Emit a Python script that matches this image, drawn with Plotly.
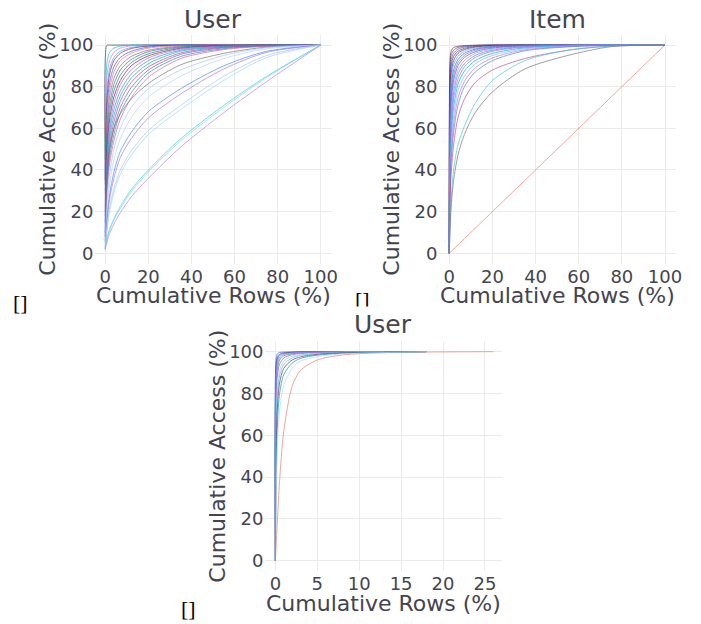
import plotly.graph_objects as go

# ---------------- data ----------------
# Panel 1 (User): cumulative rows grid (%) and cumulative access curves (%)
X_USER = [0, 0.5, 1, 2, 4, 7, 12, 20, 35, 55, 75, 100]
USER_CURVES = [
    [33, 99.5, 100, 100, 100, 100, 100, 100, 100, 100, 100, 100],
    [45, 88, 93, 96.5, 98.5, 99.5, 100, 100, 100, 100, 100, 100],
    [38, 80, 87, 92.5, 96.5, 98.5, 99.6, 100, 100, 100, 100, 100],
    [30, 72, 81, 88.5, 94, 97, 98.8, 99.7, 100, 100, 100, 100],
    [35, 68, 77, 86, 92.5, 96, 98.3, 99.5, 100, 100, 100, 100],
    [28, 62, 72, 82, 89.5, 94, 97, 99, 99.9, 100, 100, 100],
    [25, 58, 68, 78.5, 87, 92.5, 96, 98.5, 99.7, 100, 100, 100],
    [22, 55, 64, 75, 84, 90, 94.5, 97.5, 99.4, 99.9, 100, 100],
    [20, 50, 60, 71, 81, 88, 93, 96.8, 99.1, 99.8, 100, 100],
    [18, 46, 56, 67.5, 78, 85.5, 91.5, 95.8, 98.8, 99.7, 100, 100],
    [15, 42, 52, 64, 75, 83, 90, 94.8, 98.4, 99.6, 99.9, 100],
    [14, 40, 49, 61, 72, 81, 88, 93.8, 98, 99.5, 99.9, 100],
    [12, 36, 46, 58, 69, 78, 86, 92.5, 97.5, 99.3, 99.8, 100],
    [10, 33, 43, 55, 66, 75.5, 84, 91, 97, 99.1, 99.8, 100],
    [10, 30, 40, 52, 63, 73, 82, 89.5, 96.2, 98.9, 99.7, 100],
    [8, 28, 37, 49, 60, 70, 79.5, 88, 95.5, 98.6, 99.6, 100],
    [8, 26, 35, 46, 57, 67.5, 77, 86.5, 94.5, 98.2, 99.5, 100],
    [6, 24, 32, 43, 54, 64.5, 74.5, 84.5, 93.5, 97.8, 99.4, 100],
    [5, 30, 40, 50, 60, 67, 74, 81.5, 90.5, 96, 99, 100],
    [4, 18, 27, 38, 50, 60, 70, 79, 88, 95, 98.7, 100],
    [3, 15, 23, 33, 45, 55, 65, 75, 85, 93.5, 98.2, 100],
    [2, 12, 19, 28, 39, 49, 58, 68, 79, 90, 97, 100],
    [2, 11, 17, 26, 36, 46, 55, 65, 76.5, 88.5, 96.5, 100],
    [2, 9, 14, 22, 31, 40, 49, 59, 71, 85, 95, 100],
    [1, 8, 13, 20, 29, 38, 47, 57, 69, 83, 94, 100],
    [3, 6, 8, 11.5, 16.5, 22.5, 30.5, 40, 55, 71, 85, 100],
    [3, 5.5, 7.5, 11, 16, 21.5, 29.5, 39, 54, 70, 84.5, 100],
    [2, 4, 6, 9.5, 14, 19.5, 27, 36, 51, 67.5, 82.5, 100],
]
USER_COLORS = [
    "#444444", "#00c8d8", "#c77cff", "#619cff", "#7b2d5b", "#3f5bd9",
    "#e8796f", "#9b59b6", "#2e8b57", "#1f77b4", "#8b1a4a", "#a070e0",
    "#5a7fe0", "#00b4c8", "#b04a8a", "#6a5acd", "#4682b4", "#d06a9a",
    "#777777", "#a6c8ff", "#b8d4ff", "#4a8cff", "#b07ae8", "#a6c8ff",
    "#9fd8ff", "#40d0e0", "#70e0f0", "#c080f0",
]

# Panel 2 (Item)
X_ITEM = [0, 0.5, 1, 2, 4, 7, 12, 20, 35, 55, 75, 100]
ITEM_CURVES = [
    [0, 0.5, 1, 2, 4, 7, 12, 20, 35, 55, 75, 100],
    [0, 95, 97.5, 98.8, 99.4, 99.7, 99.9, 100, 100, 100, 100, 100],
    [0, 92, 95.5, 97.5, 98.8, 99.4, 99.8, 100, 100, 100, 100, 100],
    [0, 88, 93, 96, 98, 99, 99.6, 99.9, 100, 100, 100, 100],
    [0, 85, 90.5, 94.5, 97, 98.4, 99.3, 99.8, 100, 100, 100, 100],
    [0, 80, 87, 92.5, 96, 97.8, 99, 99.6, 99.9, 100, 100, 100],
    [0, 76, 84, 90.5, 94.5, 97, 98.5, 99.4, 99.9, 100, 100, 100],
    [0, 72, 80, 88, 93, 96, 98, 99.2, 99.8, 100, 100, 100],
    [0, 68, 77, 85.5, 91.5, 95, 97.5, 98.9, 99.7, 100, 100, 100],
    [0, 64, 73, 83, 90, 94, 96.8, 98.5, 99.6, 99.9, 100, 100],
    [0, 60, 70, 80, 88, 92.5, 96, 98, 99.4, 99.9, 100, 100],
    [0, 56, 66, 77, 86, 91, 95, 97.5, 99.2, 99.8, 100, 100],
    [0, 52, 62, 74, 83.5, 89.5, 94, 97, 99, 99.8, 100, 100],
    [0, 48, 58, 70, 81, 87.5, 92.5, 96, 98.6, 99.6, 99.9, 100],
    [0, 44, 54, 66, 78, 85, 91, 95, 98.2, 99.5, 99.9, 100],
    [0, 40, 50, 62, 74.5, 82.5, 89, 93.8, 97.7, 99.3, 99.8, 100],
    [0, 36, 46, 58, 71, 80, 87, 92.5, 97.2, 99.1, 99.8, 100],
    [0, 30, 40, 52, 65, 74, 82, 88, 93.5, 97.5, 99.5, 100],
    [0, 18, 28, 40, 52, 61, 72, 83, 92.5, 97.5, 99.5, 100],
    [0, 15, 24, 35, 47, 57, 67.5, 77.5, 88.5, 95, 99.2, 100],
]
ITEM_COLORS = [
    "#f08070", "#5a2a4a", "#6b3a6b", "#3f5bd9", "#7b2d5b", "#444466",
    "#619cff", "#2e6fd0", "#9b59b6", "#1f77b4", "#c77cff", "#4a8cff",
    "#a070e0", "#00b4c8", "#8fb8ff", "#b07ae8", "#5a7fe0", "#c0509a",
    "#40d0e0", "#777777",
]

# Panel 3 (User, second dataset) - curves may end before the last grid point
X_USER2 = [0, 0.1, 0.25, 0.5, 1, 2, 3, 5, 8, 13, 18, 26]
USER2_CURVES = [
    [0, 8, 20, 38, 62, 83.5, 91, 96, 98.4, 99.5, 99.8, 100],
    [0, 97, 99, 99.6, 99.8, 99.9, 100, 100, 100, 100],
    [0, 94, 97.5, 98.8, 99.4, 99.7, 99.8, 99.9, 100, 100, 100],
    [0, 90, 95, 97.5, 98.8, 99.4, 99.6, 99.8, 99.9, 100, 100],
    [0, 85, 92, 96, 98, 99, 99.4, 99.7, 99.9, 100],
    [0, 80, 89, 94, 97, 98.5, 99.1, 99.5, 99.8, 100],
    [0, 72, 84, 91, 95.5, 97.8, 98.6, 99.3, 99.7, 99.9, 100],
    [0, 65, 80, 88.5, 94, 97, 98.2, 99, 99.6, 99.9, 100],
    [0, 55, 74, 85, 92, 96, 97.5, 98.7, 99.4, 99.8, 100],
    [0, 45, 66, 80, 89, 94.5, 96.8, 98.3, 99.2, 99.7, 100],
    [0, 35, 55, 72, 84, 92, 95.5, 97.6, 98.9, 99.6, 100],
    [0, 92, 96.5, 98.3, 99.2, 99.6, 99.8, 100, 100],
    [0, 88, 94, 97, 98.6, 99.3, 99.6, 99.8, 100, 100],
]
USER2_COLORS = [
    "#f08070", "#3f5bd9", "#6b3a6b", "#619cff", "#2e8b57", "#9b59b6",
    "#a6c8ff", "#40d0e0", "#7b2d5b", "#00a0a0", "#b8d4ff", "#1f77b4",
    "#c77cff",
]

TITLES = ["User", "Item", "User"]
X_TITLE = "Cumulative Rows (%)"
Y_TITLE = "Cumulative Access (%)"

# ---------------- figure ----------------
W, H = 701, 624
OFF = 8  # page body margin in the browser

fig = go.Figure()

panels = [
    (X_USER, USER_CURVES, USER_COLORS, "x", "y"),
    (X_ITEM, ITEM_CURVES, ITEM_COLORS, "x2", "y2"),
    (X_USER2, USER2_CURVES, USER2_COLORS, "x3", "y3"),
]
for xs, curves, colors, xa, ya in panels:
    for i, ys in enumerate(curves):
        fig.add_trace(go.Scatter(
            x=xs[:len(ys)], y=ys, mode="lines", xaxis=xa, yaxis=ya,
            line=dict(color=colors[i % len(colors)], width=1, shape="spline", smoothing=0.8),
            opacity=0.7, showlegend=False, hoverinfo="skip"))

def fx(p):  # page pixel x -> paper fraction
    return (p - OFF) / W

def fy(p):  # page pixel y -> paper fraction
    return 1 - (p - OFF) / H

TXT = "#444450"
FONT = "DejaVu Sans"
axis_common = dict(
    showgrid=True, gridcolor="#ebebeb", gridwidth=1, zeroline=False, automargin=False,
    showline=False, ticks="", tickfont=dict(family=FONT, size=18, color=TXT),
)

# plot areas in page pixels: (left, right, top, bottom)
boxes = [
    (94.5, 331.5, 34.6, 263.7, [-5, 105], [0, 20, 40, 60, 80, 100]),
    (438.5, 675.8, 34.6, 263.7, [-5, 105], [0, 20, 40, 60, 80, 100]),
    (264.5, 501.7, 341.2, 571.1, [-1.3, 27.0], [0, 5, 10, 15, 20, 25]),
]
lay = {}
annotations = []
title_base = [28, 28, 333]
for k, (l, r, t, b, xr, xt) in enumerate(boxes):
    sfx = "" if k == 0 else str(k + 1)
    lay["xaxis" + sfx] = dict(domain=[fx(l), fx(r)], range=xr, tickvals=xt,
                              anchor="y" + sfx, **axis_common)
    lay["yaxis" + sfx] = dict(domain=[fy(b), fy(t)], range=[-5, 105],
                              tickvals=[0, 20, 40, 60, 80, 100], anchor="x" + sfx, **axis_common)
    cx = (l + r) / 2
    annotations.append(dict(text=X_TITLE, x=fx(cx), y=fy(b + 32), xref="paper", yref="paper",
                            xanchor="center", yanchor="middle", showarrow=False,
                            font=dict(family=FONT, size=22, color=TXT)))
    annotations.append(dict(text=Y_TITLE, x=fx(l - 47), y=fy((t + b) / 2), xref="paper", yref="paper",
                            xanchor="center", yanchor="middle", textangle=-90, showarrow=False,
                            font=dict(family=FONT, size=22, color=TXT)))

for (cx, cy) in [(20, 302), (362, 299), (188, 608)]:
    annotations.append(dict(text="[]", x=fx(cx), y=fy(cy), xref="paper", yref="paper",
                            xanchor="center", yanchor="middle", showarrow=False,
                            font=dict(family="Liberation Serif", size=22, color="#000000")))
# the lower figure's white area hides the bottom of the middle "[]"
annotations.append(dict(text=" ", x=fx(362), y=fy(309), xref="paper", yref="paper",
                        xanchor="center", yanchor="middle", showarrow=False,
                        width=18, height=5, bgcolor="white", borderpad=0,
                        font=dict(size=4)))
# subplot titles last so they sit on top
for k, (l, r, t, b, xr, xt) in enumerate(boxes):
    annotations.append(dict(text=TITLES[k], x=fx((l + r) / 2), y=fy(title_base[k] - 9),
                            xref="paper", yref="paper", xanchor="center", yanchor="middle",
                            showarrow=False, font=dict(family=FONT, size=25, color=TXT)))

fig.update_layout(
    width=W, height=H, margin=dict(l=0, r=0, t=0, b=0),
    paper_bgcolor="white", plot_bgcolor="white",
    annotations=annotations, **lay)

fig.write_html("out.html")
